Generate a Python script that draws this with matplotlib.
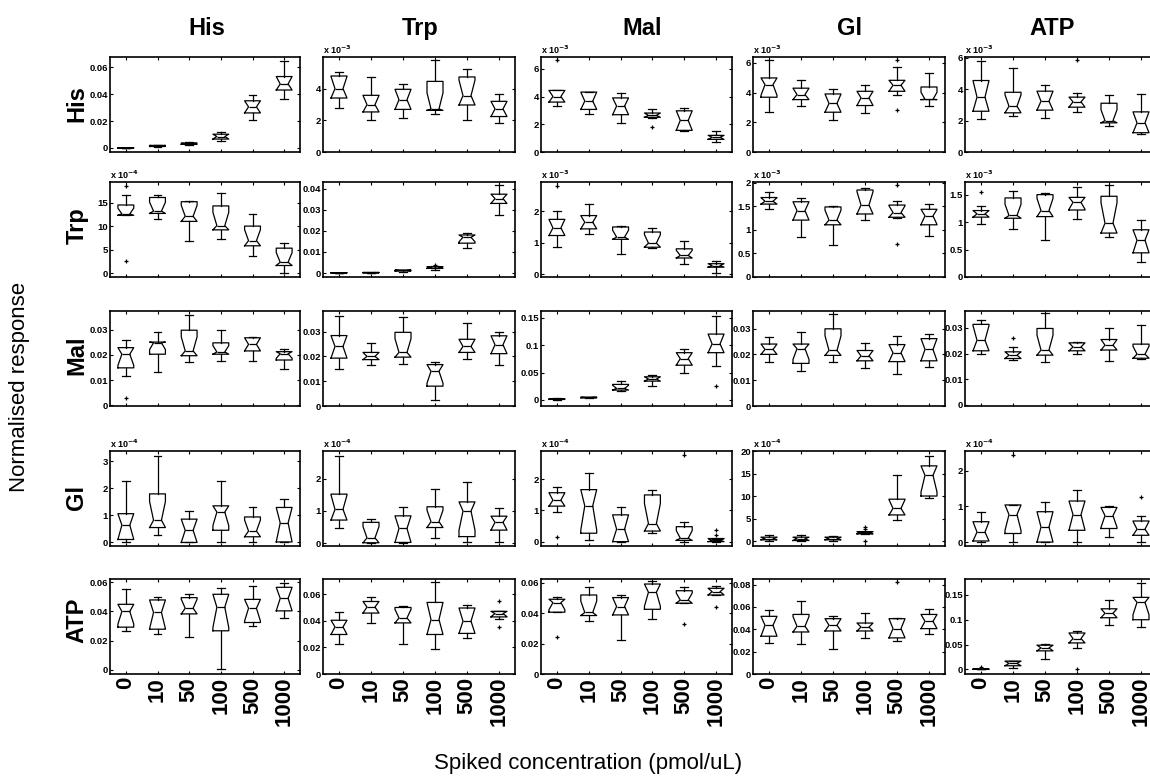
import numpy as np
import matplotlib
matplotlib.use("Agg")
import matplotlib.pyplot as plt
from matplotlib.ticker import FuncFormatter

plt.rcParams['font.family'] = ['Liberation Sans', 'DejaVu Sans']
plt.rcParams['font.weight'] = 'bold'

compounds = ["His", "Trp", "Mal", "Gl", "ATP"]
spikes = ["0", "10", "50", "100", "500", "1000"]
n_reps = 8  # replicates per box, used for the notch size

# rows = measured compound, columns = spiked compound
# each box: (lower whisker, q1, median, q3, upper whisker), in axis units (see exponents)
his_his = [(0.0, 0.0, 0.0001, 0.0002, 0.0003), (0.0008, 0.0011, 0.0015, 0.0019, 0.0024),
           (0.0022, 0.0027, 0.0031, 0.0036, 0.0042), (0.0055, 0.0066, 0.0085, 0.0102, 0.0118),
           (0.021, 0.026, 0.0305, 0.035, 0.039), (0.036, 0.043, 0.0475, 0.053, 0.0645)]
his_trp = [(2.78, 3.41, 4.0, 4.8, 5.05), (2.04, 2.53, 2.99, 3.58, 4.74), (2.17, 2.69, 3.3, 3.96, 4.32),
           (2.42, 2.63, 2.72, 4.46, 5.83), (1.99, 2.97, 3.56, 4.74, 5.23), (1.82, 2.24, 2.72, 3.2, 3.66)]
his_mal = [(3.31, 3.6, 4.0, 4.44, 4.45), (2.76, 3.07, 3.67, 4.32, 4.33), (2.11, 2.69, 3.31, 3.9, 4.27),
           (2.47, 2.5, 2.64, 2.81, 3.12), (1.49, 1.56, 2.28, 2.97, 3.17), (0.72, 0.91, 1.06, 1.2, 1.53)]
his_gl = [(2.68, 3.69, 4.54, 4.99, 6.2), (3.09, 3.53, 3.87, 4.3, 4.88), (2.15, 2.68, 3.27, 3.91, 4.27),
          (2.62, 3.13, 3.65, 4.09, 4.54), (3.83, 4.09, 4.5, 4.83, 5.7), (3.09, 3.53, 3.55, 4.38, 5.32)]
his_atp = [(2.08, 2.6, 3.5, 4.56, 5.78), (2.29, 2.5, 2.92, 3.81, 5.36), (2.14, 2.67, 3.24, 3.88, 4.26),
           (2.56, 2.86, 3.2, 3.5, 3.75), (1.65, 1.86, 2.0, 3.11, 3.62), (1.17, 1.23, 1.86, 2.56, 3.7)]

trp_his = [(12.3, 12.3, 12.6, 14.5, 16.7), (11.6, 12.7, 13.2, 16.1, 16.6), (6.8, 11.0, 12.1, 15.2, 15.3),
           (7.2, 9.2, 10.1, 14.3, 17.0), (3.7, 5.8, 6.9, 10.0, 12.5), (0.1, 1.6, 2.3, 5.3, 6.5)]
trp_trp = [(0.0, 0.00005, 0.0001, 0.00015, 0.0002), (0.0001, 0.00015, 0.0002, 0.00025, 0.0003),
           (0.0007, 0.001, 0.0012, 0.0014, 0.0016), (0.0015, 0.0022, 0.0026, 0.003, 0.0035),
           (0.0118, 0.0142, 0.017, 0.0181, 0.0189), (0.0276, 0.0331, 0.0354, 0.0375, 0.0417)]
trp_mal = [(0.88, 1.23, 1.47, 1.74, 1.99), (1.29, 1.44, 1.65, 1.86, 2.23), (0.66, 1.11, 1.18, 1.5, 1.53),
           (0.85, 0.86, 0.99, 1.34, 1.47), (0.34, 0.52, 0.6, 0.81, 1.07), (0.04, 0.23, 0.28, 0.34, 0.44)]
trp_gl = [(1.44, 1.55, 1.61, 1.69, 1.8), (0.84, 1.21, 1.41, 1.6, 1.69), (0.67, 1.11, 1.21, 1.49, 1.51),
          (1.21, 1.34, 1.53, 1.85, 1.9), (1.26, 1.27, 1.37, 1.53, 1.61), (0.88, 1.11, 1.3, 1.44, 1.55)]
trp_atp = [(0.96, 1.09, 1.15, 1.21, 1.3), (0.88, 1.07, 1.12, 1.44, 1.56), (0.67, 1.1, 1.21, 1.5, 1.53),
           (1.06, 1.22, 1.36, 1.45, 1.64), (0.73, 0.8, 0.98, 1.47, 1.67), (0.27, 0.44, 0.67, 0.86, 1.04)]

mal_his = [(0.0116, 0.0149, 0.0203, 0.0229, 0.0259), (0.0134, 0.0203, 0.0248, 0.0251, 0.0292),
           (0.0171, 0.0197, 0.0216, 0.0298, 0.0358), (0.0177, 0.0203, 0.0212, 0.0248, 0.030),
           (0.0177, 0.0216, 0.0242, 0.0268, 0.027), (0.0145, 0.018, 0.0205, 0.0213, 0.0223)]
mal_trp = [(0.0151, 0.0193, 0.024, 0.0284, 0.0364), (0.0167, 0.0187, 0.020, 0.0216, 0.0256),
           (0.0171, 0.0197, 0.0216, 0.0297, 0.0357), (0.0023, 0.008, 0.014, 0.0167, 0.0176),
           (0.0189, 0.0216, 0.024, 0.0269, 0.0336), (0.0167, 0.0211, 0.0247, 0.0283, 0.030)]
mal_mal = [(0.0005, 0.001, 0.0015, 0.002, 0.003), (0.0035, 0.004, 0.0045, 0.005, 0.0055),
           (0.0165, 0.018, 0.021, 0.0283, 0.035), (0.026, 0.0343, 0.038, 0.0422, 0.045),
           (0.0494, 0.0633, 0.0753, 0.0861, 0.092), (0.062, 0.0861, 0.102, 0.120, 0.153)]
mal_gl = [(0.0172, 0.020, 0.0219, 0.024, 0.0266), (0.0137, 0.0165, 0.0222, 0.024, 0.0285),
          (0.0171, 0.0196, 0.0215, 0.0299, 0.0356), (0.0146, 0.0175, 0.0194, 0.0215, 0.0244),
          (0.0124, 0.0172, 0.0206, 0.0238, 0.0272), (0.0152, 0.0175, 0.0219, 0.0261, 0.028)]
mal_atp = [(0.0198, 0.0211, 0.0252, 0.0314, 0.0332), (0.0175, 0.0181, 0.0194, 0.0207, 0.0226),
           (0.0168, 0.0194, 0.0214, 0.0298, 0.0358), (0.0200, 0.0211, 0.0226, 0.0242, 0.0245),
           (0.0171, 0.0214, 0.0233, 0.0255, 0.0298), (0.0181, 0.0182, 0.0198, 0.0237, 0.0313)]

gl_his = [(0.0, 0.11, 0.64, 1.06, 2.25), (0.29, 0.55, 0.82, 1.79, 3.2), (0.0, 0.0, 0.45, 0.86, 1.15),
          (0.0, 0.45, 1.12, 1.35, 2.28), (0.0, 0.21, 0.42, 0.94, 1.31), (0.02, 0.02, 0.72, 1.29, 1.59)]
gl_trp = [(0.48, 0.72, 1.05, 1.52, 2.71), (0.02, 0.02, 0.17, 0.65, 0.74), (0.02, 0.03, 0.46, 0.85, 1.13),
          (0.17, 0.49, 0.67, 1.13, 1.68), (0.03, 0.21, 1.0, 1.28, 1.9), (0.03, 0.41, 0.65, 0.84, 1.08)]
gl_mal = [(0.96, 1.14, 1.33, 1.57, 1.76), (0.05, 0.27, 1.15, 1.67, 2.21), (0.0, 0.0, 0.4, 0.86, 1.12),
          (0.27, 0.34, 0.58, 1.5, 1.65), (0.0, 0.04, 0.11, 0.48, 0.63), (0.0, 0.0, 0.04, 0.1, 0.1)]
gl_gl = [(0.07, 0.37, 0.6, 0.96, 1.54), (0.07, 0.22, 0.6, 0.96, 1.54), (0.07, 0.37, 0.6, 0.96, 1.3),
         (1.7, 1.7, 1.9, 2.2, 2.2), (4.85, 5.9, 7.35, 9.4, 14.7), (9.6, 10.1, 14.7, 16.8, 19.1)]
gl_atp = [(0.0, 0.03, 0.28, 0.57, 0.83), (0.0, 0.24, 0.77, 1.04, 1.04), (0.0, 0.0, 0.42, 0.85, 1.13),
          (0.0, 0.33, 0.77, 1.15, 1.46), (0.14, 0.38, 0.74, 0.97, 1.02), (0.0, 0.19, 0.36, 0.59, 0.73)]

atp_his = [(0.0269, 0.0292, 0.040, 0.0449, 0.0552), (0.0244, 0.0278, 0.0393, 0.0479, 0.0497),
           (0.0221, 0.0383, 0.0422, 0.0495, 0.0518), (0.0005, 0.0267, 0.0429, 0.0518, 0.0563),
           (0.0301, 0.0324, 0.0422, 0.0483, 0.0575), (0.0358, 0.0404, 0.049, 0.0566, 0.0598)]
atp_trp = [(0.0223, 0.0297, 0.0354, 0.0404, 0.0463), (0.0384, 0.0458, 0.0503, 0.0545, 0.0575),
           (0.0228, 0.0384, 0.0421, 0.05, 0.0513), (0.0191, 0.0297, 0.0409, 0.0538, 0.0694),
           (0.0268, 0.0305, 0.0397, 0.0496, 0.0516), (0.0414, 0.0429, 0.0454, 0.0471, 0.0471)]
atp_mal = [(0.0406, 0.0406, 0.0469, 0.0491, 0.0508), (0.0345, 0.0384, 0.0404, 0.0519, 0.057),
           (0.0225, 0.0388, 0.0443, 0.0502, 0.0519), (0.036, 0.0425, 0.0537, 0.0591, 0.0613),
           (0.0465, 0.0465, 0.0486, 0.0547, 0.0574), (0.0519, 0.0519, 0.0541, 0.0563, 0.058)]
atp_gl = [(0.0273, 0.0338, 0.0436, 0.0516, 0.0569), (0.0267, 0.0376, 0.0427, 0.0533, 0.0649),
          (0.0228, 0.0385, 0.0436, 0.0495, 0.0516), (0.0326, 0.0385, 0.042, 0.0456, 0.0548),
          (0.0296, 0.0323, 0.0406, 0.0495, 0.05), (0.0361, 0.0406, 0.0471, 0.0533, 0.0584)]
atp_atp = [(0.0, 0.0, 0.0003, 0.0008, 0.001), (0.002, 0.0073, 0.012, 0.0167, 0.0167),
           (0.0207, 0.0373, 0.0433, 0.0487, 0.0507), (0.044, 0.0533, 0.062, 0.0733, 0.0767),
           (0.0887, 0.104, 0.113, 0.122, 0.139), (0.0853, 0.100, 0.135, 0.145, 0.173)]

panels = [[his_his, his_trp, his_mal, his_gl, his_atp],
          [trp_his, trp_trp, trp_mal, trp_gl, trp_atp],
          [mal_his, mal_trp, mal_mal, mal_gl, mal_atp],
          [gl_his, gl_trp, gl_mal, gl_gl, gl_atp],
          [atp_his, atp_trp, atp_mal, atp_gl, atp_atp]]

# outliers: (row, col) -> {box index: values}
outliers = {
    (0, 2): {0: [6.6], 3: [1.77]},
    (0, 3): {4: [6.2, 2.86]},
    (0, 4): {3: [5.85]},
    (1, 0): {0: [18.5, 2.6]},
    (1, 1): {3: [0.0039]},
    (1, 2): {0: [2.79]},
    (1, 3): {4: [1.96, 0.7]},
    (1, 4): {0: [1.55]},
    (2, 0): {0: [0.0028]},
    (2, 2): {5: [0.026]},
    (2, 4): {1: [0.0259]},
    (3, 2): {0: [0.15], 4: [2.78], 5: [0.36, 0.21]},
    (3, 3): {3: [3.2, 2.8, 0.2]},
    (3, 4): {1: [2.45], 5: [1.25]},
    (4, 1): {5: [0.0545, 0.0354]},
    (4, 2): {0: [0.024], 4: [0.0329], 5: [0.0443]},
    (4, 3): {4: [0.0827]},
    (4, 4): {0: [0.004], 3: [0.0]},
}

exponents = [[0, -3, -3, -3, -3],
             [-4, 0, -3, -3, -3],
             [0, 0, 0, 0, 0],
             [-4, -4, -4, -4, -4],
             [0, 0, 0, 0, 0]]

ylims = [[(-0.003, 0.0675), (0, 6.0), (0, 6.85), (0, 6.4), (0, 6.06)],
         [(-0.85, 19.4), (-0.0019, 0.0433), (-0.08, 2.92), (0, 2.02), (0, 1.73)],
         [(-0.0002, 0.0374), (0, 0.0383), (-0.011, 0.162), (0, 0.0368), (-0.0004, 0.0366)],
         [(-0.13, 3.37), (-0.08, 2.85), (-0.14, 2.91), (-1.0, 20.1), (-0.11, 2.55)],
         [(-0.003, 0.0623), (0, 0.0714), (0, 0.0624), (0, 0.085), (-0.0093, 0.182)]]

yticks = [[[0, 0.02, 0.04, 0.06], [0, 2, 4], [0, 2, 4, 6], [0, 2, 4, 6], [0, 2, 4, 6]],
          [[0, 5, 10, 15], [0, 0.01, 0.02, 0.03, 0.04], [0, 1, 2], [0, 0.5, 1, 1.5, 2], [0, 0.5, 1, 1.5]],
          [[0, 0.01, 0.02, 0.03], [0, 0.01, 0.02, 0.03], [0, 0.05, 0.1, 0.15], [0, 0.01, 0.02, 0.03],
           [0, 0.01, 0.02, 0.03]],
          [[0, 1, 2, 3], [0, 1, 2], [0, 1, 2], [0, 5, 10, 15, 20], [0, 1, 2]],
          [[0, 0.02, 0.04, 0.06], [0, 0.02, 0.04, 0.06], [0, 0.02, 0.04, 0.06], [0, 0.02, 0.04, 0.06, 0.08],
           [0, 0.05, 0.1, 0.15]]]

# layout in pixels
W, H = 1150, 778
col_left = [110, 323, 541, 753, 965]
col_width = [190, 192, 191, 192, 192]
row_top = [57, 182, 311, 451, 579]
row_h = 95
row_label_y = [104, 226, 355, 497, 620]
title_x = [207, 420, 642, 849, 1052]

fig = plt.figure(figsize=(W / 100, H / 100), dpi=100)

line_kw = dict(color='k', linewidth=0.9)
for r in range(5):
    for c in range(5):
        ax = fig.add_axes([col_left[c] / W, 1 - (row_top[r] + row_h) / H, col_width[c] / W, row_h / H])
        scale = 10.0 ** exponents[r][c]
        out = outliers.get((r, c), {})
        stats = []
        for i, (lo, q1, med, q3, hi) in enumerate(panels[r][c]):
            h = 1.57 * (q3 - q1) / np.sqrt(n_reps)
            stats.append(dict(whislo=lo * scale, q1=q1 * scale, med=med * scale, q3=q3 * scale,
                              whishi=hi * scale,
                              cilo=max(med - h, q1) * scale, cihi=min(med + h, q3) * scale,
                              fliers=np.array(out.get(i, [])) * scale))
        ax.bxp(stats, positions=range(1, 7), widths=0.5, capwidths=0.25, shownotches=True,
               boxprops=line_kw, whiskerprops=line_kw, capprops=line_kw, medianprops=line_kw,
               flierprops=dict(marker='+', markeredgecolor='k', markersize=3.5,
                               markeredgewidth=0.9, linestyle='none'))
        ax.set_xlim(0.5, 6.5)
        lo_, hi_ = ylims[r][c]
        ax.set_ylim(lo_ * scale, hi_ * scale)
        ax.set_yticks([t * scale for t in yticks[r][c]])
        ax.yaxis.set_major_formatter(FuncFormatter(lambda v, p, s=scale: f"{v / s:.10g}"))
        ax.set_xticks(range(1, 7))
        if r == 4:
            ax.set_xticklabels(spikes, rotation=90, fontsize=16, fontweight='bold')
        else:
            ax.set_xticklabels([])
        ax.tick_params(direction='in', length=2.5, width=0.8, top=True, right=True,
                       labelsize=6.8, pad=1.5)
        ax.tick_params(axis='x', labelsize=16, pad=2)
        for sp in ax.spines.values():
            sp.set_linewidth(1.2)
        if exponents[r][c] != 0:
            ax.text(0.0, 1.015, "x 10$^{%d}$" % exponents[r][c], transform=ax.transAxes,
                    fontsize=6.5, fontweight='bold', ha='left', va='bottom')

for c, name in enumerate(compounds):
    fig.text(title_x[c] / W, 1 - 28.5 / H, name, ha='center', va='center',
             fontsize=17, fontweight='bold')
for r, name in enumerate(compounds):
    fig.text(77 / W, 1 - row_label_y[r] / H, name, ha='center', va='center', rotation=90,
             fontsize=17, fontweight='bold')

fig.text(20 / W, 1 - 387 / H, "Normalised response", ha='center', va='center', rotation=90,
         fontsize=16, fontweight='normal')
fig.text(588 / W, 1 - 763 / H, "Spiked concentration (pmol/uL)", ha='center', va='center',
         fontsize=16, fontweight='normal')

fig.savefig("out.png", dpi=100)
